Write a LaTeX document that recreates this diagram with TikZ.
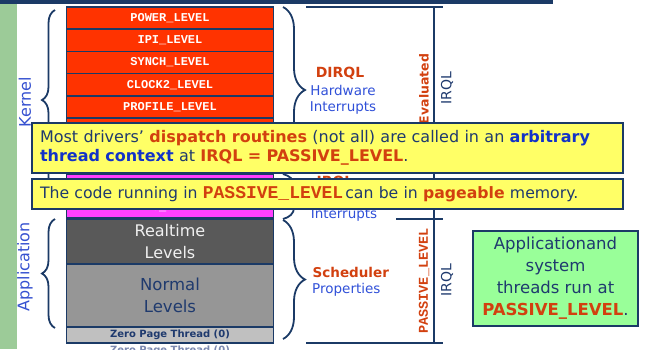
\documentclass[tikz,border=0pt]{standalone}
\usepackage{fontspec}
\setmainfont{DejaVu Sans}
\newfontfamily\lvlfont{Liberation Mono}
\usetikzlibrary{decorations.pathreplacing}

\definecolor{navy}{HTML}{1B3A66}
\definecolor{txtnavy}{HTML}{1F3A6E}
\definecolor{lvlred}{HTML}{FF3300}
\definecolor{lvlmag}{HTML}{FF40FF}
\definecolor{darkrow}{HTML}{595959}
\definecolor{midrow}{HTML}{969696}
\definecolor{lightrow}{HTML}{C0C0C0}
\definecolor{hotred}{HTML}{D2400F}
\definecolor{labblue}{HTML}{3050D8}
\definecolor{deepblue}{HTML}{1232C8}
\definecolor{notefill}{HTML}{FFFF66}
\definecolor{boxgreen}{HTML}{99FF99}
\definecolor{strip}{HTML}{9CCB98}
\definecolor{ghost}{HTML}{7A88B0}

\tikzset{
  row/.style={draw=navy, line width=1.5pt, minimum width=207pt, inner sep=0pt},
  lvl/.style={row, fill=lvlred, minimum height=22.2pt, text=white,
    font=\lvlfont\bfseries\fontsize{12}{14}\selectfont},
  swlvl/.style={lvl, fill=lvlmag, minimum height=22pt},
  brc/.style={draw=navy, line width=1.8pt, decorate},
  irqlline/.style={draw=navy, line width=1.6pt},
  note/.style={draw=navy, line width=1.8pt, fill=notefill, inner xsep=8pt,
    inner ysep=0pt, text width=575pt, align=left, text=txtnavy,
    font=\fontsize{16}{19.5}\selectfont},
  sidelabel/.style={inner sep=0pt, font=\fontsize{13.5}{15}\selectfont},
}

\newcommand\hot[1]{\textbf{\color{hotred}#1}}
\newcommand\deep[1]{\textbf{\color{deepblue}#1}}
\newcommand\monored[1]{{\lvlfont\bfseries\fontsize{18}{20}\selectfont\color{hotred}#1}}

\begin{document}
\begin{tikzpicture}[x=1pt, y=-1pt]
\useasboundingbox (0,0) rectangle (649,349);

% page frame: title rule and side strip
\fill[navy] (0,0) rectangle (553,3.5);
\fill[strip] (0,3.5) rectangle (17,349);

% shadow line of the bottom label
\node[inner sep=0pt, text=ghost, font=\bfseries\fontsize{10}{12}\selectfont] (ghosttxt) at (170,351) {Zero Page Thread (0)};

% IRQL stack
\node[lvl] (power)   at (170,18.1)  {POWER\_LEVEL};
\node[lvl] (ipi)     at (170,40.3)  {IPI\_LEVEL};
\node[lvl] (synch)   at (170,62.5)  {SYNCH\_LEVEL};
\node[lvl] (clock)   at (170,84.7)  {CLOCK2\_LEVEL};
\node[lvl] (profile) at (170,106.9) {PROFILE\_LEVEL};
\node[row, fill=lvlred, minimum height=56pt] (dirql) at (170,146) {};
\node[swlvl] (dispatch) at (170,185) {};
\node[swlvl] (apc)      at (170,207) {APC\_LEVEL};
\node[row, fill=darkrow, minimum height=46pt, text=white!94!black, align=center,
  font=\fontsize{16}{22}\selectfont] (realtime) at (170,242) {Realtime\\Levels};
\node[row, fill=midrow, minimum height=63pt, text=txtnavy, align=center,
  font=\fontsize{16.5}{22}\selectfont] (normal) at (170,295.5) {Normal\\Levels};
\node[row, fill=lightrow, minimum height=16pt, text=txtnavy,
  font=\bfseries\fontsize{10}{12}\selectfont] (zero) at (170,335) {Zero Page Thread (0)};

% left braces and mode names
\draw[brc, decoration={brace, amplitude=13pt}] (55,190) -- (55,10);
\draw[brc, decoration={brace, amplitude=13pt}] (55,328) -- (55,219);
\node[rotate=90, inner sep=0pt, text=deepblue!85!white, font=\fontsize{16}{18}\selectfont] (kernel) at (25,102) {Kernel};
\node[rotate=90, inner sep=0pt, text=deepblue!85!white, font=\fontsize{16}{18}\selectfont] (appl) at (25,267) {Application};

% right braces and their labels
\draw[brc, decoration={brace, amplitude=22pt}] (283,7) -- (283,173);
\draw[brc, decoration={brace, amplitude=22pt}] (283,174) -- (283,219);
\draw[brc, decoration={brace, amplitude=22pt}] (283,220) -- (283,339);

\node[sidelabel, text=hotred, font=\bfseries\fontsize{14}{16}\selectfont] (dirqllab) at (340,73) {DIRQL};
\node[sidelabel, text=labblue] (hwlab) at (343,90.5) {Hardware};
\node[sidelabel, text=labblue] (intlab) at (343,108) {Interrupts};
\node[sidelabel, text=hotred, font=\bfseries\fontsize{14}{16}\selectfont] (swirql) at (335,182) {IRQL};
\node[sidelabel, text=labblue] (swint) at (344,214.5) {Interrupts};
\node[sidelabel, anchor=west, text=hotred, font=\bfseries\fontsize{13.5}{15}\selectfont] (schedlab) at (312.5,272) {Scheduler};
\node[sidelabel, anchor=west, text=labblue] (proplab) at (312,290) {Properties};

% IRQL scale on the right
\coordinate (topl) at (306,7);    \coordinate (topr) at (443,7);
\coordinate (midl) at (396,219);  \coordinate (midr) at (443,219);
\coordinate (botl) at (306,343);  \coordinate (botr) at (443,343);
\coordinate (axtop) at (434,7);   \coordinate (axbot) at (434,343);
\draw[irqlline] (topl) -- (topr);
\draw[irqlline] (midl) -- (midr);
\draw[irqlline] (botl) -- (botr);
\draw[irqlline] (axtop) -- (axbot);

\node[rotate=90, inner sep=0pt, text=hotred, font=\bfseries\fontsize{12.5}{14}\selectfont] (evallab) at (424,89) {Evaluated};
\node[rotate=90, inner sep=0pt, text=txtnavy, font=\fontsize{14}{16}\selectfont] (irqltop) at (447,88) {IRQL};
\node[rotate=90, inner sep=0pt, text=hotred, font=\lvlfont\bfseries\fontsize{13.5}{15}\selectfont] (passlab) at (424,281) {PASSIVE\_LEVEL};
\node[rotate=90, inner sep=0pt, text=txtnavy, font=\fontsize{14}{16}\selectfont] (irqlbot) at (447,280) {IRQL};

% notes
\node[note, minimum height=50pt] (note1) at (327.5,148)
  {Most drivers' \hot{dispatch routines} (not all) are called in an \deep{arbitrary}\\
   \deep{thread context} at \hot{IRQL = PASSIVE\_LEVEL}.};
\node[note, minimum height=30pt, font=\fontsize{15.7}{19}\selectfont] (note2) at (327.5,194)
  {The code running in \monored{PASSIVE\_LEVEL}\hspace{2pt}can be in \hot{pageable} memory.};

% summary box
\node[draw=navy, line width=1.8pt, fill=boxgreen, minimum width=165pt, minimum height=95pt,
  inner sep=0pt, align=center, text=txtnavy, font=\fontsize{16.5}{22}\selectfont] (summary) at (555.5,278.5)
  {Applicationand\\system\\threads run at\\\hot{PASSIVE\_LEVEL}.};
\end{tikzpicture}
\end{document}
